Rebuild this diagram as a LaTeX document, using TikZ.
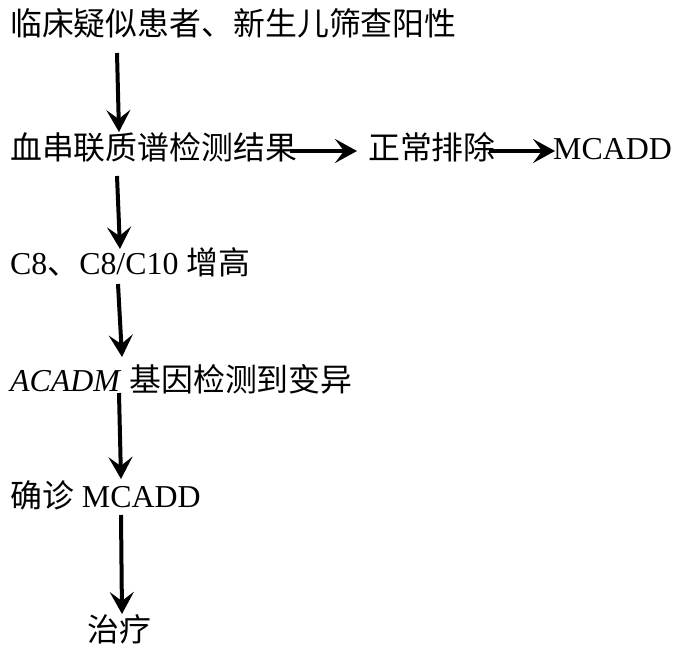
\documentclass[tikz,border=0pt]{standalone}
\usepackage{fontspec}
\setmainfont{Liberation Serif}
\newfontfamily\cjk{Noto Sans CJK SC}
\usetikzlibrary{arrows.meta}
\tikzset{
  lbl/.style={anchor=west, inner sep=0pt, text height=28bp, text depth=4bp,
    font=\fontsize{32}{38}\selectfont},
  arr/.style={line width=4bp, -{Stealth[length=22bp, width=24bp, inset=9bp]}}
}
\begin{document}
\begin{tikzpicture}[x=1bp, y=-1bp]
\useasboundingbox (0,0) rectangle (674,646);
\node[lbl] (n1) at (10,24) {\cjk 临床疑似患者、新生儿筛查阳性};
\node[lbl] (n2) at (10,148) {\cjk 血串联质谱检测结果};
\node[lbl] (n2b) at (368,148) {\cjk 正常排除};
\node[lbl] (n2c) at (553,148) {MCADD};
\node[lbl] (n3) at (10,262) {C8{\cjk 、}C8/C10 {\cjk 增高}};
\node[lbl] (n4) at (10,379) {\textit{ACADM} {\cjk 基因检测到变异}};
\node[lbl] (n5) at (10,495) {{\cjk 确诊} MCADD};
\node[lbl] (n6) at (87,629) {\cjk 治疗};
\coordinate (a1s) at (117,53);  \coordinate (a1e) at (119,132);
\coordinate (a2s) at (117,176); \coordinate (a2e) at (120,249);
\coordinate (a3s) at (118,284); \coordinate (a3e) at (122,357);
\coordinate (a4s) at (119,393); \coordinate (a4e) at (121,479);
\coordinate (a5s) at (121,515); \coordinate (a5e) at (122,614);
\coordinate (h1s) at (290,151); \coordinate (h1e) at (357,151);
\coordinate (h2s) at (489,151); \coordinate (h2e) at (555,151);
\draw[arr] (a1s) -- (a1e);
\draw[arr] (a2s) -- (a2e);
\draw[arr] (a3s) -- (a3e);
\draw[arr] (a4s) -- (a4e);
\draw[arr] (a5s) -- (a5e);
\draw[arr] (h1s) -- (h1e);
\draw[arr] (h2s) -- (h2e);
\end{tikzpicture}
\end{document}
